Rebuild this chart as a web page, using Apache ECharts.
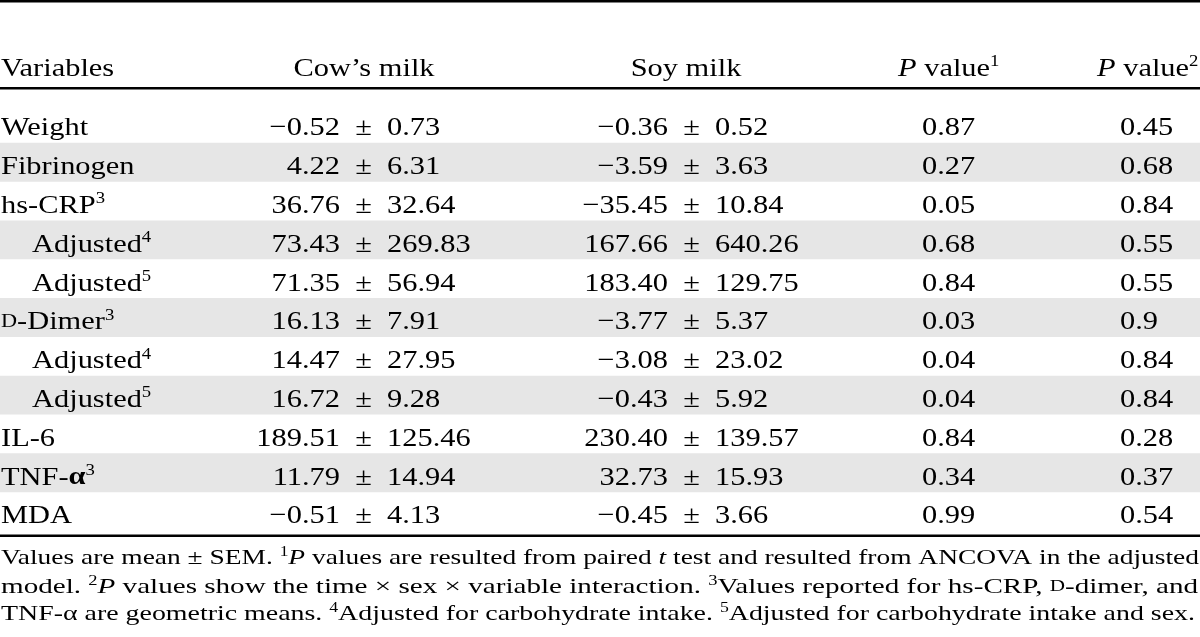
<!DOCTYPE html>
<html><head><meta charset="utf-8">
<script src="https://cdn.jsdelivr.net/npm/echarts@6/dist/echarts.min.js"></script>
<style>html,body{margin:0;padding:0;background:#fff}#chart{width:1200px;height:637px}</style>
</head><body><div id="chart"></div>
<script>
// ---------- data ----------
const variables = ['Weight','Fibrinogen','hs-CRP','Adjusted','Adjusted','D-Dimer','Adjusted','Adjusted','IL-6','TNF-α','MDA'];
const variableNotes = ['','','3','4','5','3','4','5','','3',''];
const subRow = [false,false,false,true,true,false,true,true,false,false,false];
const cowMean = [-0.52, 4.22, 36.76, 73.43, 71.35, 16.13, 14.47, 16.72, 189.51, 11.79, -0.51];
const cowSEM  = [0.73, 6.31, 32.64, 269.83, 56.94, 7.91, 27.95, 9.28, 125.46, 14.94, 4.13];
const soyMean = [-0.36, -3.59, -35.45, 167.66, 183.40, -3.77, -3.08, -0.43, 230.40, 32.73, -0.45];
const soySEM  = [0.52, 3.63, 10.84, 640.26, 129.75, 5.37, 23.02, 5.92, 139.57, 15.93, 3.66];
const pValue1 = [0.87, 0.27, 0.05, 0.68, 0.84, 0.03, 0.04, 0.04, 0.84, 0.34, 0.99];
const pValue2 = [0.45, 0.68, 0.84, 0.55, 0.55, 0.9, 0.84, 0.84, 0.28, 0.37, 0.54];
const headers = ['Variables', 'Cow\u2019s milk', 'Soy milk', 'P value', 'P value'];
const headerNotes = ['', '', '', '1', '2'];
const footnoteLines = [
  [['n','Values are mean \u00b1 SEM. '],['s','1'],['i','P'],['n',' values are resulted from paired '],['i','t'],['n',' test and resulted from ANCOVA in the adjusted']],
  [['n','model. '],['s','2'],['i','P'],['n',' values show the time \u00d7 sex \u00d7 variable interaction. '],['s','3'],['n','Values reported for hs-CRP, '],['sc','D'],['n','-dimer, and']],
  [['n','TNF-\u03b1 are geometric means. '],['s','4'],['n','Adjusted for carbohydrate intake. '],['s','5'],['n','Adjusted for carbohydrate intake and sex.']]
];

// ---------- layout / style ----------
const FONT = '"Liberation Serif", "Times New Roman", serif';
const INK = '#000';
const SX = 1.17;
const layout = { varX: 1, indent: 31, cowPM: 363.5, soyPM: 691.5, pmGap: 23.5, p1X: 922, p2X: 1120, rowDY: 5 };
const headerPos = [[1,'left'],[364,'center'],[686,'center'],[898,'left'],[1097,'left']];

const cellRich = {
  n:  { fontFamily: FONT, fontSize: 26, lineHeight: 30, fill: INK },
  b:  { fontFamily: FONT, fontSize: 26, lineHeight: 30, fontWeight: 'bold', fill: INK },
  i:  { fontFamily: FONT, fontSize: 26, lineHeight: 30, fontStyle: 'italic', fill: INK },
  sc: { fontFamily: FONT, fontSize: 19, lineHeight: 30, fill: INK },
  s:  { fontFamily: FONT, fontSize: 16, lineHeight: 16, verticalAlign: 'top', fill: INK }
};
const footRich = {
  n:  { fontFamily: FONT, fontSize: 22, lineHeight: 26, fill: INK },
  i:  { fontFamily: FONT, fontSize: 22, lineHeight: 26, fontStyle: 'italic', fill: INK },
  sc: { fontFamily: FONT, fontSize: 16, lineHeight: 26, fill: INK },
  s:  { fontFamily: FONT, fontSize: 14, lineHeight: 14, verticalAlign: 'top', fill: INK }
};

const fmt = v => (v < 0 ? '\u2212' : '') + Math.abs(v).toFixed(2);

function varLabel(i) {
  let name = variables[i];
  let out = '';
  if (name.startsWith('D-')) { out += '{sc|D}'; name = name.slice(1); }
  const k = name.indexOf('α');
  if (k >= 0) {
    out += '{n|' + name.slice(0, k) + '}{b|α}' + (name.slice(k + 1) ? '{n|' + name.slice(k + 1) + '}' : '');
  } else out += '{n|' + name + '}';
  if (variableNotes[i]) out += '{s|' + variableNotes[i] + '}';
  return out;
}

function txt(x, y, text, align, rich, sx) {
  return { type: 'text', x: x, y: y, scaleX: sx || SX,
    style: { text: text, rich: rich || cellRich, align: align, textAlign: align,
      verticalAlign: 'middle', textVerticalAlign: 'middle', fill: INK } };
}
function pmCell(cx, y, m, s) {
  return [
    txt(cx - layout.pmGap, y, '{n|' + fmt(m) + '}', 'right'),
    txt(cx, y, '{n|\u00b1}', 'center'),
    txt(cx + layout.pmGap, y, '{n|' + fmt(s) + '}', 'left')
  ];
}

// measure width of token list for footnote justification
const mctx = document.createElement('canvas').getContext('2d');
function tokenWidth(tokens, rich) {
  let w = 0;
  tokens.forEach(([k, t]) => {
    const st = rich[k];
    mctx.font = (st.fontStyle || 'normal') + ' ' + (st.fontWeight || 'normal') + ' ' + st.fontSize + 'px ' + FONT;
    w += mctx.measureText(t).width;
  });
  return w;
}

const rows = variables.map((v, i) => [0, i]);
const footY = [558, 587, 614];
const footEnd = [1199, 1198, 1195];

const graphics = [
  { type: 'rect', shape: { x: 0, y: 0, width: 1200, height: 2.6 }, style: { fill: '#000' } },
  { type: 'rect', shape: { x: 0, y: 87, width: 1200, height: 2.6 }, style: { fill: '#000' } },
  { type: 'rect', shape: { x: 0, y: 534.5, width: 1200, height: 2.4 }, style: { fill: '#000' } }
];
headers.forEach((h, c) => {
  let t;
  if (h.startsWith('P ')) t = '{i|P}{n|' + h.slice(1) + '}';
  else t = '{n|' + h + '}';
  if (headerNotes[c]) t += '{s|' + headerNotes[c] + '}';
  graphics.push(txt(headerPos[c][0], 69, t, headerPos[c][1]));
});
footnoteLines.forEach((tokens, li) => {
  const w = tokenWidth(tokens, footRich);
  const sx = (footEnd[li] - 1) / w;
  const t = tokens.map(([k, s]) => '{' + k + '|' + s + '}').join('');
  graphics.push(txt(1, footY[li], t, 'left', footRich, sx));
});

const chart = echarts.init(document.getElementById('chart'), null, { renderer: 'canvas' });
chart.setOption({
  animation: false,
  backgroundColor: '#fff',
  grid: { left: 0, right: 0, top: 104, bottom: 106 },
  xAxis: { type: 'value', min: 0, max: 1200, show: false },
  yAxis: { type: 'category', inverse: true, data: variables.map((v, i) => String(i)), show: false },
  graphic: graphics,
  series: [
    {
      type: 'custom', data: rows, silent: true, z: 1,
      renderItem: function (params, api) {
        const i = api.value(1);
        if (i % 2 !== 1) return null;
        const c = api.coord([0, i]);
        const h = api.size([0, 1])[1];
        return { type: 'rect', shape: { x: params.coordSys.x, y: c[1] - h / 2, width: params.coordSys.width, height: h },
          style: { fill: '#e6e6e6' } };
      }
    },
    {
      type: 'custom', data: rows, silent: true, z: 2,
      renderItem: function (params, api) {
        const i = api.value(1);
        const y = api.coord([0, i])[1] + layout.rowDY;
        const px = v => api.coord([v, i])[0];
        return { type: 'group', children: [
          txt(px(layout.varX + (subRow[i] ? layout.indent : 0)), y, varLabel(i), 'left'),
          ...pmCell(px(layout.cowPM), y, cowMean[i], cowSEM[i]),
          ...pmCell(px(layout.soyPM), y, soyMean[i], soySEM[i]),
          txt(px(layout.p1X), y, '{n|' + String(pValue1[i]) + '}', 'left'),
          txt(px(layout.p2X), y, '{n|' + String(pValue2[i]) + '}', 'left')
        ] };
      }
    }
  ]
});
</script></body></html>
